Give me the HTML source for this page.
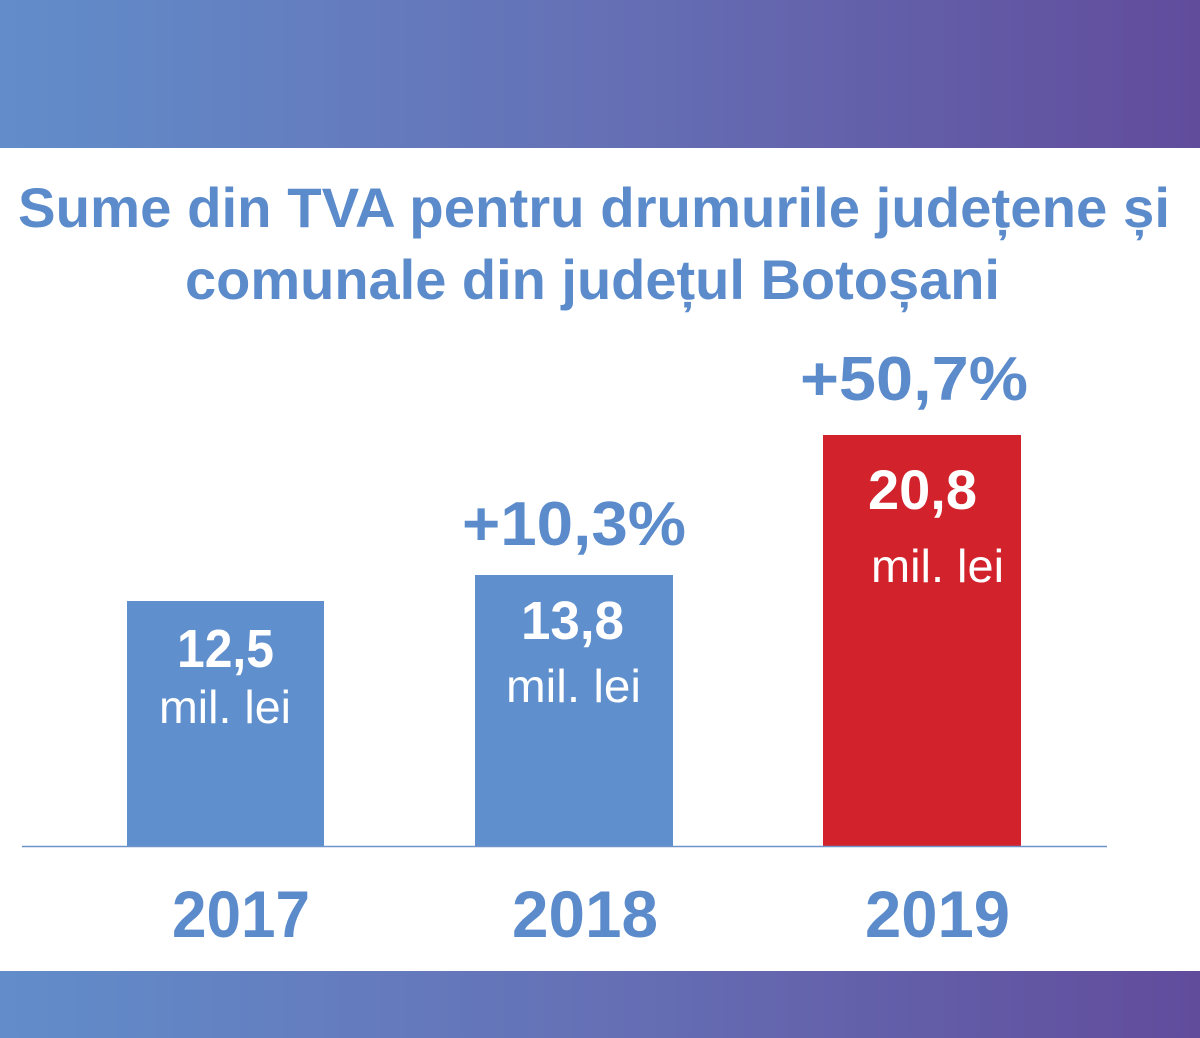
<!DOCTYPE html>
<html>
<head>
<meta charset="utf-8">
<style>
  html, body { margin:0; padding:0; background:#fff; }
  body { width:1200px; height:1038px; overflow:hidden; }
  svg { display:block; }
  .b { font-family:"Liberation Sans", sans-serif; font-weight:bold; }
  .r { font-family:"Liberation Sans", sans-serif; font-weight:normal; }
</style>
</head>
<body>
<svg width="1200" height="1038" viewBox="0 0 1200 1038" xmlns="http://www.w3.org/2000/svg">
  <defs>
    <linearGradient id="g" x1="0" y1="0" x2="1" y2="0">
      <stop offset="0" stop-color="#628dca"/>
      <stop offset="0.5" stop-color="#6570b5"/>
      <stop offset="1" stop-color="#614c9c"/>
    </linearGradient>
  </defs>
  <rect x="0" y="0" width="1200" height="1038" fill="#ffffff"/>
  <rect x="0" y="0" width="1200" height="148" fill="url(#g)"/>
  <rect x="0" y="971" width="1200" height="67" fill="url(#g)"/>

  <!-- Title -->
  <text class="b" x="18" y="227" font-size="56" fill="#5b8bcb" textLength="1152" lengthAdjust="spacingAndGlyphs">Sume din TVA pentru drumurile județene și</text>
  <text class="b" x="185" y="299" font-size="56" fill="#5b8bcb" textLength="815" lengthAdjust="spacingAndGlyphs">comunale din județul Botoșani</text>

  <!-- Bars -->
  <rect x="127" y="601" width="197" height="245" fill="#608fcd"/>
  <rect x="475" y="575" width="198" height="271" fill="#608fcd"/>
  <rect x="823" y="435" width="198" height="411" fill="#d2222b"/>

  <!-- Baseline -->
  <line x1="22" y1="846.5" x2="1107" y2="846.5" stroke="#6d93c9" stroke-width="1.5"/>

  <!-- Bar values -->
  <text class="b" x="177" y="667" font-size="54" fill="#ffffff" textLength="97" lengthAdjust="spacingAndGlyphs">12,5</text>
  <text class="r" x="159" y="723" font-size="46" fill="#ffffff" textLength="132" lengthAdjust="spacingAndGlyphs">mil. lei</text>

  <text class="b" x="521" y="639" font-size="54" fill="#ffffff" textLength="103" lengthAdjust="spacingAndGlyphs">13,8</text>
  <text class="r" x="506" y="702" font-size="46" fill="#ffffff" textLength="135" lengthAdjust="spacingAndGlyphs">mil. lei</text>

  <text class="b" x="868" y="509" font-size="56" fill="#ffffff" textLength="109" lengthAdjust="spacingAndGlyphs">20,8</text>
  <text class="r" x="871" y="582" font-size="46" fill="#ffffff" textLength="133" lengthAdjust="spacingAndGlyphs">mil. lei</text>

  <!-- Percent labels -->
  <text class="b" x="462" y="545" font-size="62" fill="#5b8bcb" textLength="224" lengthAdjust="spacingAndGlyphs">+10,3%</text>
  <text class="b" x="800" y="400" font-size="62" fill="#5b8bcb" textLength="228" lengthAdjust="spacingAndGlyphs">+50,7%</text>

  <!-- Years -->
  <text class="b" x="172" y="937" font-size="66" fill="#5b8bcb" textLength="138" lengthAdjust="spacingAndGlyphs">2017</text>
  <text class="b" x="512" y="937" font-size="66" fill="#5b8bcb" textLength="146" lengthAdjust="spacingAndGlyphs">2018</text>
  <text class="b" x="865" y="937" font-size="66" fill="#5b8bcb" textLength="145" lengthAdjust="spacingAndGlyphs">2019</text>
</svg>
</body>
</html>
